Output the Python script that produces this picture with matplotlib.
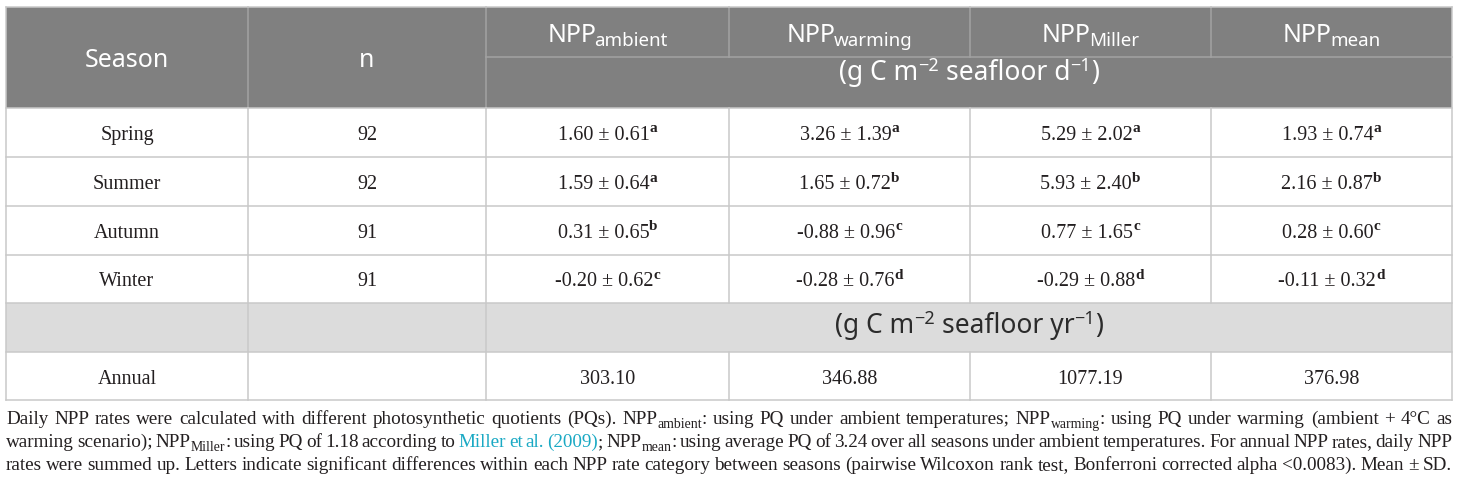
import re
import matplotlib
matplotlib.use("Agg")
import matplotlib.pyplot as plt
from matplotlib.font_manager import FontProperties
from matplotlib.patches import Rectangle

# ---------------- data ----------------
seasons = ["Spring", "Summer", "Autumn", "Winter"]
n_values = [92, 92, 91, 91]
npp_names = ["ambient", "warming", "Miller", "mean"]

ambient_mean = [1.60, 1.59, 0.31, -0.20]
ambient_sd = [0.61, 0.64, 0.65, 0.62]
ambient_letters = ["a", "a", "b", "c"]

warming_mean = [3.26, 1.65, -0.88, -0.28]
warming_sd = [1.39, 0.72, 0.96, 0.76]
warming_letters = ["a", "b", "c", "d"]

miller_mean = [5.29, 5.93, 0.77, -0.29]
miller_sd = [2.02, 2.40, 1.65, 0.88]
miller_letters = ["a", "b", "c", "d"]

meanpq_mean = [1.93, 2.16, 0.28, -0.11]
meanpq_sd = [0.74, 0.87, 0.60, 0.32]
meanpq_letters = ["a", "b", "c", "d"]

annual_label = "Annual"
annual_values = [303.10, 346.88, 1077.19, 376.98]

daily_unit = [("(g C m", "n"), ("\u22122", "sup"), (" seafloor d", "n"), ("\u22121", "sup"), (")", "n")]
annual_unit = [("(g C m", "n"), ("\u22122", "sup"), (" seafloor yr", "n"), ("\u22121", "sup"), (")", "n")]

caption_lines = [
    "Daily NPP rates were calculated with different photosynthetic quotients (PQs). NPP_{ambient}: using PQ under ambient temperatures; NPP_{warming}: using PQ under warming (ambient + 4\u00b0C as",
    "warming scenario); NPP_{Miller}: using PQ of 1.18 according to [[Miller et al. (2009)]]; NPP_{mean}: using average PQ of 3.24 over all seasons under ambient temperatures. For annual NPP rates, daily NPP",
    "rates were summed up. Letters indicate significant differences within each NPP rate category between seasons (pairwise Wilcoxon rank test, Bonferroni corrected alpha <0.0083). Mean \u00b1 SD.",
]

# ---------------- layout ----------------
W_PX, H_PX = 1460, 487
cols = [6, 248, 486, 729, 970, 1211, 1452]
y_top, y_mid, y_hdr = 7, 57, 108
body_rows = [108, 157, 206, 255, 303]
gray_row = (303, 352)
annual_row = (352, 400)
cap_baselines = [424, 447, 470]

HDR_BG = "#808080"
HDR_LINE = "#a3a3a3"
GRID = "#c9c9c9"
GRAY_BG = "#dcdcdc"
BODY_TXT = "#231f20"
LINK = "#1aa9c4"

fig = plt.figure(figsize=(W_PX / 100, H_PX / 100), dpi=100)
ax = fig.add_axes([0, 0, 1, 1])
ax.set_xlim(0, W_PX)
ax.set_ylim(H_PX, 0)
ax.axis("off")
fig.canvas.draw()
renderer = fig.canvas.get_renderer()

SANS = "Noto Sans"
SERIF = "Liberation Serif"


def fp(family, size, weight="normal"):
    return FontProperties(family=family, size=size, weight=weight)


def W(s, prop):
    return renderer.get_text_width_height_descent(s, prop, ismath=False)[0]


def adv(s, prop):
    return W("x" + s + "x", prop) - W("xx", prop)


def draw_runs(x, y, runs, ha="center"):
    """runs: list of (text, FontProperties, dy, color[, dx])"""
    total = sum(adv(r[0], r[1]) + (r[4] if len(r) > 4 else 0) for r in runs)
    cur = x - total / 2 if ha == "center" else x
    for r in runs:
        t, p, dy, c = r[:4]
        dx = r[4] if len(r) > 4 else 0
        cur += dx
        lead = len(t) - len(t.lstrip(" "))
        xx = cur + (adv(" " * lead, p) if lead else 0)
        ax.text(xx, y + dy, t.strip(), fontproperties=p, color=c,
                ha="left", va="baseline")
        cur += adv(t, p)


# ---------------- backgrounds ----------------
ax.add_patch(Rectangle((cols[0], y_top), cols[-1] - cols[0], y_hdr - y_top,
                       facecolor=HDR_BG, edgecolor="none"))
ax.add_patch(Rectangle((cols[0], gray_row[0]), cols[-1] - cols[0], gray_row[1] - gray_row[0],
                       facecolor=GRAY_BG, edgecolor="none"))

LW = 1.1
# header lines
for c in cols[1:3]:
    ax.plot([c, c], [y_top, y_hdr], color=HDR_LINE, lw=LW)
for c in cols[3:6]:
    ax.plot([c, c], [y_top, y_mid], color=HDR_LINE, lw=LW)
ax.plot([cols[2], cols[-1]], [y_mid, y_mid], color=HDR_LINE, lw=LW)

# outer border & body grid
ax.plot([cols[0], cols[-1]], [y_top, y_top], color=GRID, lw=LW)
for yy in body_rows + [gray_row[1], annual_row[1]]:
    ax.plot([cols[0], cols[-1]], [yy, yy], color=GRID, lw=LW)
for c in [cols[0], cols[-1]]:
    ax.plot([c, c], [y_top, annual_row[1]], color=GRID, lw=LW)
for c in cols[1:3]:
    ax.plot([c, c], [y_hdr, annual_row[1]], color=GRID, lw=LW)
for c in cols[3:6]:
    ax.plot([c, c], [y_hdr, gray_row[0]], color=GRID, lw=LW)
    ax.plot([c, c], [annual_row[0], annual_row[1]], color=GRID, lw=LW)

# ---------------- header text ----------------
f_hdr = fp(SANS, 18)
f_hdr_sub = fp(SANS, 13.5)
f_unit = fp(SANS, 19)
f_unit_sup = fp(SANS, 13)


def ccenter(i):
    return (cols[i] + cols[i + 1]) / 2


draw_runs(ccenter(0), 67, [("Season", f_hdr, 0, "white")])
draw_runs(ccenter(1), 67, [("n", f_hdr, 0, "white")])
for i, name in enumerate(npp_names):
    draw_runs(ccenter(2 + i), 42, [("NPP", f_hdr, 0, "white"),
                                   (name, f_hdr_sub, 4, "white", -1.5)])

units_center = (cols[2] + cols[-1]) / 2


def unit_runs(spec, color):
    out = []
    for t, kind in spec:
        if kind == "sup":
            out.append((t, f_unit_sup, -9, color))
        else:
            out.append((t, f_unit, 0, color))
    return out


draw_runs(units_center, 80, unit_runs(daily_unit, "white"))
draw_runs(units_center, 333, unit_runs(annual_unit, "#2b2b2b"))

# ---------------- body text ----------------
f_body = fp(SERIF, 14.5)
f_body_sup = fp(SERIF, 11, "bold")

series = [
    (ambient_mean, ambient_sd, ambient_letters),
    (warming_mean, warming_sd, warming_letters),
    (miller_mean, miller_sd, miller_letters),
    (meanpq_mean, meanpq_sd, meanpq_letters),
]

for r, season in enumerate(seasons):
    yc = (body_rows[r] + body_rows[r + 1]) / 2
    yb = yc + 7.5
    draw_runs(ccenter(0), yb, [(season, f_body, 0, BODY_TXT)])
    draw_runs(ccenter(1), yb, [(str(n_values[r]), f_body, 0, BODY_TXT)])
    for j, (mlist, slist, llist) in enumerate(series):
        txt = f"{mlist[r]:.2f} \u00b1 {slist[r]:.2f}"
        draw_runs(ccenter(2 + j), yb, [(txt, f_body, 0, BODY_TXT),
                                       (llist[r], f_body_sup, -7.5, BODY_TXT)])

ya = (annual_row[0] + annual_row[1]) / 2 + 7.5
draw_runs(ccenter(0), ya, [(annual_label, f_body, 0, BODY_TXT)])
for j, v in enumerate(annual_values):
    draw_runs(ccenter(2 + j), ya, [(f"{v:.2f}", f_body, 0, BODY_TXT)])

# ---------------- caption ----------------


def parse_line(line):
    words = []
    link = False
    for w in line.split(" "):
        runs = []
        for part in re.split(r"(_\{[^}]*\}|\[\[|\]\])", w):
            if part == "":
                continue
            if part == "[[":
                link = True
                continue
            if part == "]]":
                link = False
                continue
            if part.startswith("_{"):
                runs.append((part[2:-1], "sub"))
                continue
            runs.append((part, "link" if link else "n"))
        words.append(runs)
    return words


parsed = [parse_line(l) for l in caption_lines]
target = cols[-1] - cols[0]


def cap_fonts(size):
    return fp(SERIF, size), fp(SERIF, size * 0.72)


def word_width(runs, fn, fs):
    return sum(adv(t, fs if k == "sub" else fn) for t, k in runs)


ref = 14.0
fn, fs = cap_fonts(ref)
nat = []
for words in parsed:
    nat.append(sum(word_width(w, fn, fs) for w in words)
               + (len(words) - 1) * adv(" ", fn) * 0.6)
cap_size = ref * min(target / w for w in nat) * 0.998
fn, fs = cap_fonts(cap_size)

for words, yb in zip(parsed, cap_baselines):
    widths = [word_width(w, fn, fs) for w in words]
    gap = (target - sum(widths)) / (len(words) - 1)
    x = cols[0]
    for w, ww in zip(words, widths):
        runs = []
        for t, k in w:
            if k == "sub":
                runs.append((t, fs, 4, BODY_TXT))
            elif k == "link":
                runs.append((t, fn, 0, LINK))
            else:
                runs.append((t, fn, 0, BODY_TXT))
        draw_runs(x, yb, runs, ha="left")
        x += ww + gap

fig.savefig("out.png", dpi=100)
